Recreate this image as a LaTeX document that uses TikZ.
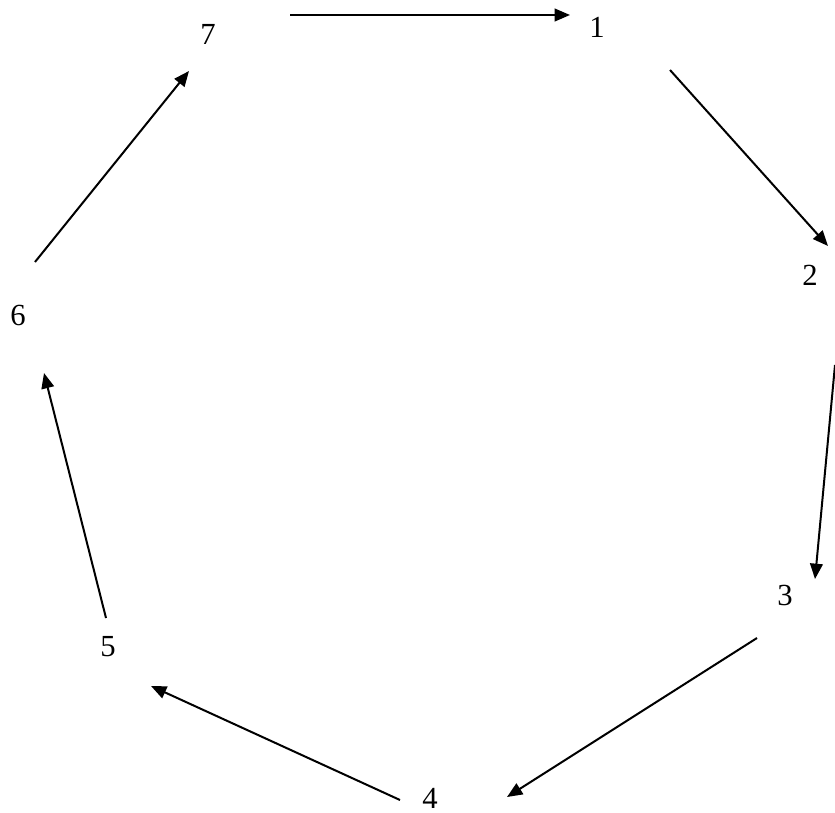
\documentclass[tikz,border=0pt]{standalone}
\usepackage{fontspec}
\setmainfont{Liberation Serif}
\usetikzlibrary{arrows.meta}
\begin{document}
\begin{tikzpicture}[x=0.75pt,y=-0.75pt,
  lbl/.style={inner sep=0pt,font=\fontsize{23}{26}\selectfont},
  conn/.style={line width=1.5pt,-{Triangle[length=11.5pt,width=9.5pt]}}]
\useasboundingbox (0,0) rectangle (835,813);
\node[lbl] (n7) at (208,34) {7};
\node[lbl] (n1) at (597,27) {1};
\node[lbl] (n2) at (810,275) {2};
\node[lbl] (n3) at (785,595) {3};
\node[lbl] (n4) at (430,798) {4};
\node[lbl] (n5) at (108,647) {5};
\node[lbl] (n6) at (18,315) {6};
\coordinate (a71) at (290,15);  \coordinate (b71) at (570,15);
\coordinate (a12) at (670,70);  \coordinate (b12) at (828,246);
\coordinate (a23) at (835,365); \coordinate (b23) at (815,579);
\coordinate (a34) at (757,638); \coordinate (b34) at (507,797);
\coordinate (a45) at (400,800); \coordinate (b45) at (151,686);
\coordinate (a56) at (106,618); \coordinate (b56) at (44,373);
\coordinate (a67) at (35,262);  \coordinate (b67) at (189,71);
\draw[conn] (a71) -- (b71);
\draw[conn] (a12) -- (b12);
\draw[conn] (a23) -- (b23);
\draw[conn] (a34) -- (b34);
\draw[conn] (a45) -- (b45);
\draw[conn] (a56) -- (b56);
\draw[conn] (a67) -- (b67);
\end{tikzpicture}
\end{document}
